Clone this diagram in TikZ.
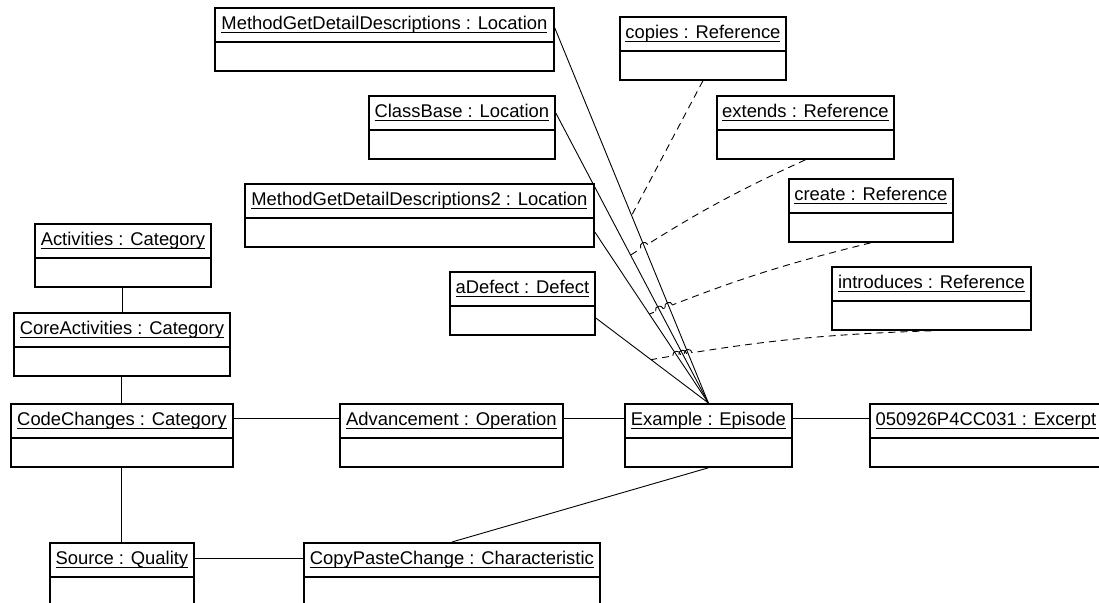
\documentclass[tikz,border=0pt]{standalone}
\usepackage{fontspec}
\setmainfont{Liberation Sans}
\usetikzlibrary{calc,intersections}
\newsavebox\myulbox
\newcommand\myul[1]{\sbox\myulbox{#1}\rlap{\rule[-3pt]{\wd\myulbox}{0.9pt}}\usebox\myulbox}
\tikzset{
  obj/.style={draw, line width=1.8pt, anchor=north west, minimum width=#1,
    inner sep=0pt, text height=22pt, text depth=41pt,
    font=\fontsize{18.4}{20}\selectfont,
    path picture={\draw[line width=1.8pt]
      ([yshift=-34pt]path picture bounding box.north west) --
      ([yshift=-34pt]path picture bounding box.north east);}},
  assoc/.style={line width=0.9pt},
  link/.style={line width=0.9pt, dash pattern=on 7pt off 5pt},
  hopline/.style={line width=0.9pt},
  gap/.style={fill=white, draw=none},
}
\newcommand\hop[2]{% #1 crossing, #2 a point up the dashed line
  \draw[hopline] ($(#1)!4pt!(#2)$) .. controls ($($(#1)!4pt!(#2)$)!5.3pt!-90:(#1)$)
    and ($($(#1)!-4pt!(#2)$)!5.3pt!90:(#1)$) .. ($(#1)!-4pt!(#2)$);}
\begin{document}
\begin{tikzpicture}[x=1pt,y=-1pt]
\useasboundingbox (0,0) rectangle (1099,602);
\fill[white] (0,0) rectangle (1099,602);
\clip (0,0) rectangle (1099,602);
% objects
\node[obj=339pt] (mgdd)   at (214,7)   {\myul{MethodGetDetailDescriptions : Location}};
\node[obj=186pt] (cb)     at (368,95)  {\myul{ClassBase : Location}};
\node[obj=349pt] (mgdd2)  at (244,183) {\myul{MethodGetDetailDescriptions2 : Location}};
\node[obj=166pt] (copies) at (619,16)  {\myul{copies : Reference}};
\node[obj=177pt] (ext)    at (716,95)  {\myul{extends : Reference}};
\node[obj=164pt] (create) at (788,178) {\myul{create : Reference}};
\node[obj=199pt] (intro)  at (831,266) {\myul{introduces : Reference}};
\node[obj=145pt] (def)    at (449,271) {\myul{aDefect : Defect}};
\node[obj=167pt] (ex)     at (624,403) {\myul{Example : Episode}};
\node[obj=232pt] (exc)    at (869,403) {\myul{050926P4CC031 : Excerpt}};
\node[obj=176pt] (act)    at (34,223)  {\myul{Activities : Category}};
\node[obj=216pt] (core)   at (13,312)  {\myul{CoreActivities : Category}};
\node[obj=222pt] (cc)     at (10,403)  {\myul{CodeChanges : Category}};
\node[obj=223pt] (adv)    at (339,403) {\myul{Advancement : Operation}};
\node[obj=144pt] (src)    at (49,542)  {\myul{Source : Quality}};
\node[obj=296pt] (cpc)    at (303,542) {\myul{CopyPasteChange : Characteristic}};
% plain associations
\draw[assoc] (act.south) -- (act.south |- core.north);
\draw[assoc] (core.south) -- (core.south |- cc.north);
\draw[assoc] (cc.south) -- (cc.south |- src.north);
\draw[assoc] ([yshift=-15pt]cc.north east) -- ([yshift=-15pt]adv.north west);
\draw[assoc] ([yshift=-15pt]adv.north east) -- ([yshift=-15pt]ex.north west);
\draw[assoc] ([yshift=-15pt]ex.north east) -- ([yshift=-15pt]exc.north west);
\draw[assoc] ([yshift=-16pt]src.north east) -- ([yshift=-16pt]cpc.north west);
\draw[assoc] (ex.south) -- (cpc.north);
% associations to the episode
\coordinate (pMG) at ([yshift=-21pt]mgdd.north east);
\coordinate (pCB) at ([yshift=-18pt]cb.north east);
\coordinate (pM2) at ([yshift=-49pt]mgdd2.north east);
\coordinate (pDF) at ([yshift=-47pt]def.north east);
\path[name path=lMG] (pMG) -- (ex.north);
\path[name path=lCB] (pCB) -- (ex.north);
\path[name path=lM2] (pM2) -- (ex.north);
% links to associations (dashed)
\draw[link] (copies.south) -- ($(pMG)!0.5!(ex.north)$);
\draw[link, name path=dExt] (ext.south) to[bend right=4] ($(pCB)!0.49!(ex.north)$);
\draw[link, name path=dCre] (create.south) to[bend right=4] ($(pM2)!0.48!(ex.north)$);
\draw[link, name path=dInt] (intro.south) to[bend right=4] ($(pDF)!0.49!(ex.north)$);
\path[name intersections={of=lMG and dExt, by=h1}];
\path[name intersections={of=lMG and dCre, by=h2}];
\path[name intersections={of=lCB and dCre, by=h3}];
\path[name intersections={of=lMG and dInt, by=h4}];
\path[name intersections={of=lCB and dInt, by=h5}];
\path[name intersections={of=lM2 and dInt, by=h6}];
\foreach \h in {h1,h2,h3,h4,h5,h6} \fill[gap] (\h) circle (4.3pt);
\draw[assoc] (pMG) -- (ex.north);
\draw[assoc] (pCB) -- (ex.north);
\draw[assoc] (pM2) -- (ex.north);
\draw[assoc] (pDF) -- (ex.north);
\hop{h1}{ext.south}
\hop{h2}{create.south}
\hop{h3}{create.south}
\hop{h4}{intro.south}
\hop{h5}{intro.south}
\hop{h6}{intro.south}
\end{tikzpicture}
\end{document}
